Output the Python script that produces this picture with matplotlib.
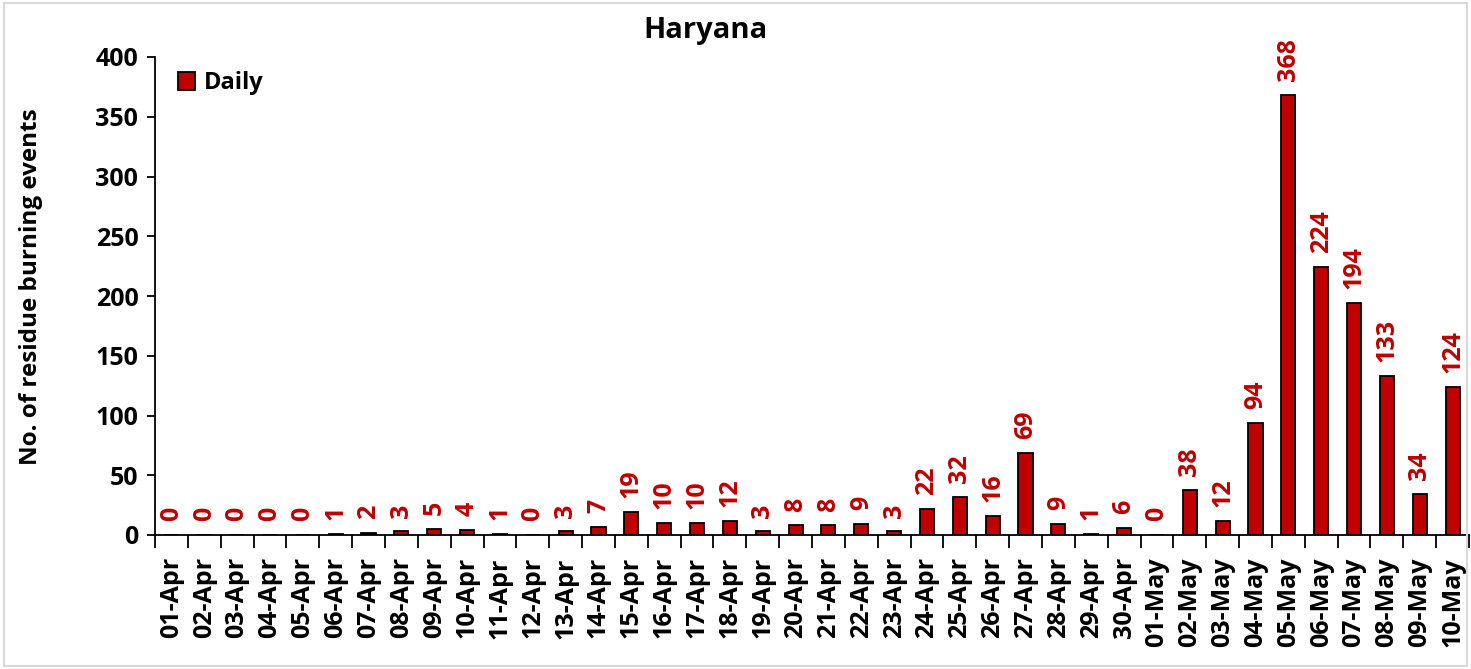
import matplotlib.pyplot as plt
from matplotlib.patches import Rectangle

plt.rcParams['font.family'] = ['Open Sans', 'DejaVu Sans']
plt.rcParams['font.weight'] = 'bold'

# data
dates = ['01-Apr', '02-Apr', '03-Apr', '04-Apr', '05-Apr', '06-Apr', '07-Apr', '08-Apr',
         '09-Apr', '10-Apr', '11-Apr', '12-Apr', '13-Apr', '14-Apr', '15-Apr', '16-Apr',
         '17-Apr', '18-Apr', '19-Apr', '20-Apr', '21-Apr', '22-Apr', '23-Apr', '24-Apr',
         '25-Apr', '26-Apr', '27-Apr', '28-Apr', '29-Apr', '30-Apr', '01-May', '02-May',
         '03-May', '04-May', '05-May', '06-May', '07-May', '08-May', '09-May', '10-May']
daily = [0, 0, 0, 0, 0, 1, 2, 3, 5, 4, 1, 0, 3, 7, 19, 10, 10, 12, 3, 8,
         8, 9, 3, 22, 32, 16, 69, 9, 1, 6, 0, 38, 12, 94, 368, 224, 194, 133, 34, 124]

RED = '#c00000'

fig = plt.figure(figsize=(14.71, 6.69), dpi=100)
ax = fig.add_axes([155/1471, 1 - 535/669, (1469-155)/1471, (535-57)/669])

x = range(len(dates))
ax.bar(x, daily, width=0.43, color=RED, edgecolor='black', linewidth=1.3, label='Daily')

# value labels above each bar
for xi, v in zip(x, daily):
    ax.annotate(str(v), (xi, v), xytext=(0, 10), textcoords='offset points',
                rotation=90, ha='center', va='bottom', color=RED,
                fontsize=18, fontweight='bold')

ax.set_xlim(-0.5, len(dates) - 0.5)
ax.set_ylim(0, 400)
ax.set_yticks(range(0, 401, 50))
ax.tick_params(axis='y', labelsize=18, length=6, width=1.3, pad=6)
# ticks between categories, labels centred on bars
ax.set_xticks([i - 0.5 for i in range(len(dates) + 1)], minor=False)
ax.set_xticklabels([])
ax.set_xticks(list(x), minor=True)
ax.set_xticklabels(dates, minor=True, rotation=90, fontsize=18, fontweight='bold')
ax.tick_params(axis='x', which='major', length=9, width=1.3)
ax.tick_params(axis='x', which='minor', length=0, pad=16)

for s in ['top', 'right']:
    ax.spines[s].set_visible(False)
for s in ['left', 'bottom']:
    ax.spines[s].set_linewidth(1.3)

ax.set_ylabel('No. of residue burning events', fontsize=17.5, fontweight='bold')
ax.yaxis.set_label_coords(-0.085, 0.52)
fig.text(706/1471, 1 - 38/669, 'Haryana', ha='center', va='baseline',
         fontsize=21, fontweight='bold')

ax.legend(loc='upper left', bbox_to_anchor=(0.01, 0.99), frameon=False, fontsize=17,
          handlelength=0.75, handleheight=0.75, handletextpad=0.35, borderaxespad=0)

fig.patches.append(Rectangle((0.003, 0.004), 0.994, 0.992, transform=fig.transFigure,
                             fill=False, edgecolor='#d9d9d9', linewidth=1.5))

fig.savefig('out.png', dpi=100)
